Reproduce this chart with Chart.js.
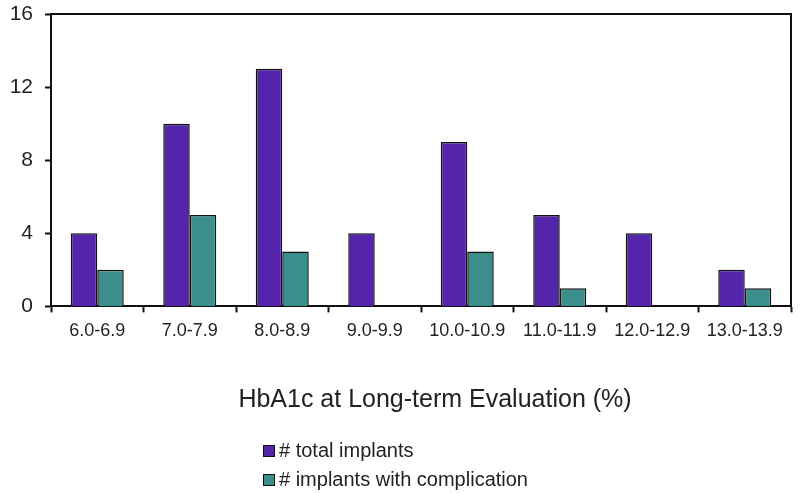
<!DOCTYPE html>
<html>
<head>
<meta charset="utf-8">
<script src="https://cdn.jsdelivr.net/npm/chart.js@4.4.0/dist/chart.umd.min.js"></script>
<style>
    html, body { margin: 0; padding: 0; background: #fff; }
    #wrap { position: relative; width: 800px; height: 494px; }
    #xTitle {
        position: absolute; left: 233px; top: 383px; width: 404px;
        text-align: center; white-space: nowrap;
        font-family: Helvetica, Arial, 'Liberation Sans', sans-serif;
        font-size: 25px; line-height: 30px; color: #222;
    }
    #legend {
        position: absolute; left: 263px; top: 436px;
        font-family: Helvetica, Arial, 'Liberation Sans', sans-serif;
        font-size: 20px; color: #222;
    }
    .row { display: flex; align-items: center; height: 29px; }
    .box { width: 10px; height: 10px; border: 1px solid #111; margin-right: 4px; }
</style>
</head>
<body>
<div id="wrap">
    <canvas id="hbaChart" width="800" height="494"></canvas>
    <div id="xTitle"></div>
    <div id="legend"></div>
</div>
<script>
    // Data
    const categories = ['6.0-6.9', '7.0-7.9', '8.0-8.9', '9.0-9.9', '10.0-10.9', '11.0-11.9', '12.0-12.9', '13.0-13.9'];
    const totalImplants = [4, 10, 13, 4, 9, 5, 4, 2];
    const complicationImplants = [2, 5, 3, null, 3, 1, null, 1];
    const seriesLabels = ['# total implants', '# implants with complication'];
    const xTitle = 'HbA1c at Long-term Evaluation (%)';

    const purple = '#5424ab';
    const teal = '#3b8e8c';
    const fontFamily = 'Helvetica, Arial, "Liberation Sans", sans-serif';

    // Top and right frame lines
    const frame = {
        id: 'frame',
        afterDraw(chart) {
            const a = chart.chartArea;
            const c = chart.ctx;
            c.save();
            c.strokeStyle = '#111';
            c.lineWidth = 2;
            c.beginPath();
            c.moveTo(a.left, a.top);
            c.lineTo(a.right, a.top);
            c.lineTo(a.right, a.bottom);
            c.stroke();
            c.restore();
        }
    };

    const chart = new Chart(document.getElementById('hbaChart'), {
        type: 'bar',
        data: {
            labels: categories,
            datasets: [{
                label: seriesLabels[0],
                data: totalImplants,
                backgroundColor: purple,
                borderColor: '#111',
                borderWidth: 1.5
            }, {
                label: seriesLabels[1],
                data: complicationImplants,
                backgroundColor: teal,
                borderColor: '#111',
                borderWidth: 1.5
            }]
        },
        options: {
            responsive: false,
            animation: false,
            categoryPercentage: 0.573,
            barPercentage: 1.0,
            layout: {
                padding: { top: 14, right: 9, bottom: 144, left: 0 }
            },
            plugins: {
                legend: { display: false },
                tooltip: { enabled: false }
            },
            scales: {
                x: {
                    grid: {
                        drawOnChartArea: false,
                        tickLength: 6,
                        tickColor: '#111',
                        tickWidth: 2
                    },
                    border: { color: '#111', width: 2 },
                    ticks: {
                        color: '#222',
                        font: { family: fontFamily, size: 18 },
                        maxRotation: 0,
                        padding: 8
                    }
                },
                y: {
                    min: 0,
                    max: 16,
                    afterFit: function(scale) {
                        scale.width = 51;
                        scale.paddingTop = 0;
                        scale.paddingBottom = 0;
                    },
                    grid: {
                        drawOnChartArea: false,
                        tickLength: 6,
                        tickColor: '#111',
                        tickWidth: 2
                    },
                    border: { color: '#111', width: 2 },
                    ticks: {
                        stepSize: 4,
                        color: '#222',
                        font: { family: fontFamily, size: 21 },
                        padding: 12
                    }
                }
            }
        },
        plugins: [frame]
    });

    document.getElementById('xTitle').textContent = xTitle;

    // Stacked legend below the axis title
    const legendEl = document.getElementById('legend');
    chart.data.datasets.forEach(function(ds) {
        const row = document.createElement('div');
        row.className = 'row';
        const box = document.createElement('span');
        box.className = 'box';
        box.style.background = ds.backgroundColor;
        const txt = document.createElement('span');
        txt.textContent = ds.label;
        row.appendChild(box);
        row.appendChild(txt);
        legendEl.appendChild(row);
    });
</script>
</body>
</html>
